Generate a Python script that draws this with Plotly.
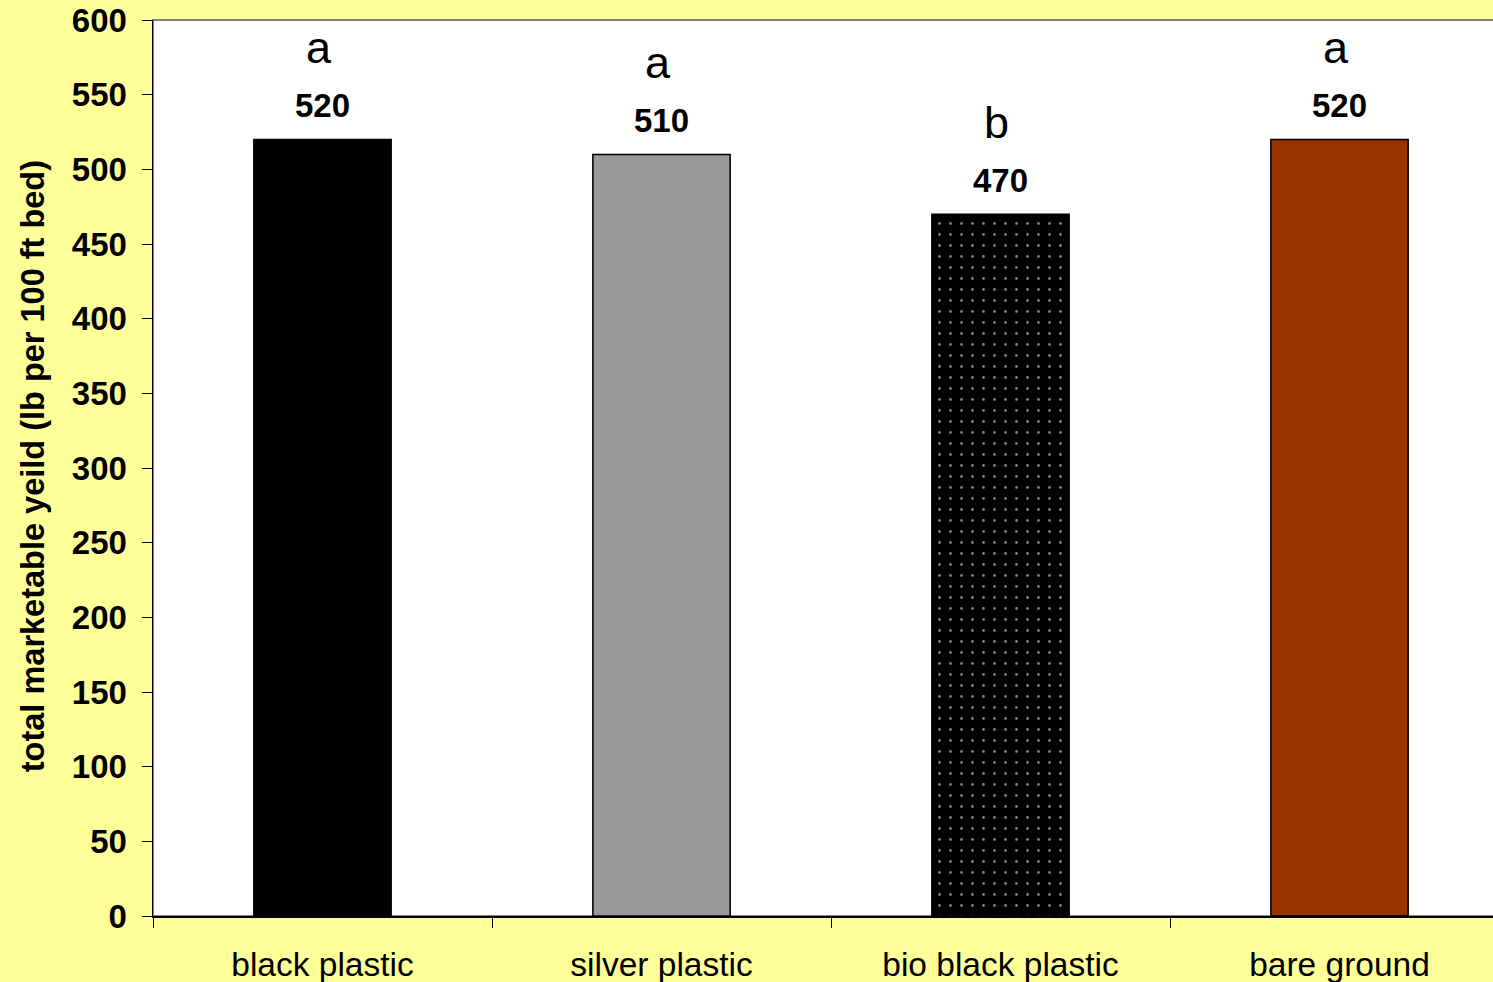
import plotly.graph_objects as go

categories = ["black plastic", "silver plastic", "bio black plastic", "bare ground"]
yields = [520, 510, 470, 520]
letters = ["a", "a", "b", "a"]
value_labels = ["520", "510", "470", "520"]
bar_colors = ["#000000", "#999999", "#000000", "#993300"]
patterns = ["", "", ".", ""]
y_ticks = list(range(0, 601, 50))

W, H = 1493, 982
L, R, T, B = 153, 0, 20, 66
plot_w = W - L - R
cat_px = 339.0
x_max = -0.5 + plot_w / cat_px

fig = go.Figure()
fig.add_trace(go.Bar(
    x=categories,
    y=yields,
    width=0.405,
    marker=dict(
        color=bar_colors,
        line=dict(color="#000000", width=1.5),
        pattern=dict(
            shape=patterns,
            fgcolor="#8080ff",
            size=11,
            solidity=0.05,
            fillmode="overlay",
        ),
    ),
    showlegend=False,
    hoverinfo="skip",
))

annotations = []
for c, v, lab, let in zip(categories, yields, value_labels, letters):
    annotations.append(dict(
        x=c, y=v, xref="x", yref="y", text="<b>" + lab + "</b>",
        showarrow=False, yanchor="middle", yshift=34,
        font=dict(family="Liberation Sans, Arial", size=33, color="#000000"),
    ))
    annotations.append(dict(
        x=c, y=v, xref="x", yref="y", text=let,
        showarrow=False, yanchor="middle", yshift=92, xshift=-4,
        font=dict(family="Liberation Sans, Arial", size=45, color="#000000"),
    ))

annotations.append(dict(
    x=(33 - L) / plot_w, y=0.502, xref="paper", yref="paper",
    text="<b>total marketable yeild (lb per 100 ft bed)</b>",
    textangle=-90, showarrow=False, xanchor="center", yanchor="middle",
    font=dict(family="Liberation Sans, Arial", size=32.5, color="#000000"),
))

fig.update_layout(
    width=W, height=H,
    margin=dict(l=L, r=R, t=T, b=B, pad=0),
    paper_bgcolor="#FFFF99",
    plot_bgcolor="#FFFFFF",
    annotations=annotations,
    shapes=[dict(type="rect", xref="paper", yref="paper", x0=0, x1=1.01, y0=0, y1=1,
                 line=dict(color="#808080", width=2), layer="below")],
    xaxis=dict(
        range=[-0.5, x_max],
        tickson="boundaries",
        ticks="outside", ticklen=10, tickcolor="#000000", tickwidth=1,
        showline=True, linecolor="#000000", linewidth=1.5,
        showgrid=False, zeroline=False,
        ticklabelstandoff=18,
        tickfont=dict(family="Liberation Sans, Arial", size=33.5, color="#000000"),
    ),
    yaxis=dict(
        range=[0, 600],
        tickvals=y_ticks,
        ticktext=["<b>%d</b>" % v for v in y_ticks],
        ticks="outside", ticklen=10, tickcolor="#000000", tickwidth=1,
        showline=True, linecolor="#000000", linewidth=1.5,
        showgrid=False, zeroline=False,
        ticklabelstandoff=8,
        tickfont=dict(family="Liberation Sans, Arial", size=33, color="#000000"),
    ),
)

fig.write_html(
    "out.html",
    config={"displayModeBar": False, "staticPlot": True},
    post_script="document.body.style.margin='0';document.body.style.overflow='hidden';",
)
